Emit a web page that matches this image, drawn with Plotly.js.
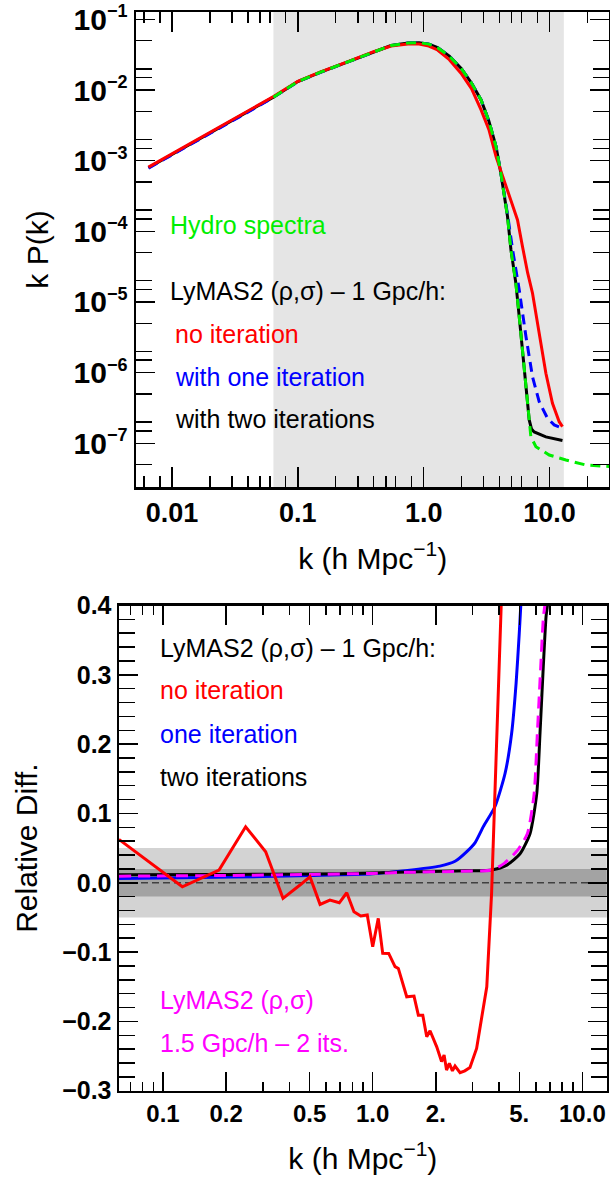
<!DOCTYPE html>
<html><head><meta charset="utf-8">
<script src="https://cdn.plot.ly/plotly-3.0.1.min.js"></script>
<style>html,body{margin:0;padding:0;background:#fff}#chart{width:610px;height:1184px}</style>
</head><body><div id="chart"></div>
<script>
// ---------- Top panel: k P(k) ----------
const kTwoIt = [0.0065,0.01,0.02,0.04,0.064,0.1,0.15,0.25,0.4,0.55,0.75,0.92,1.1,1.29,1.6,1.98,2.4,2.86,3.3,3.76,4.11,4.37,4.64,4.94,5.41,5.75,6.11,6.5,6.9,7.2,7.56,9.36,12.68];
const pTwoIt = [7.94e-4,1.23e-3,2.45e-3,4.90e-3,7.94e-3,1.318e-2,1.778e-2,2.512e-2,3.49e-2,4.27e-2,4.62e-2,4.68e-2,4.47e-2,3.98e-2,3.02e-2,2.04e-2,1.259e-2,7.24e-3,3.63e-3,1.585e-3,6.61e-4,3.39e-4,1.62e-4,5.50e-5,1.82e-5,6.17e-6,2.09e-6,5.62e-7,2.14e-7,1.585e-7,1.445e-7,1.23e-7,1.096e-7];

const kOneIt = [0.0065,0.01,0.02,0.04,0.064,0.1,0.15,0.25,0.4,0.55,0.75,0.92,1.1,1.29,1.6,1.98,2.4,2.86,3.3,3.76,4.11,4.37,4.64,5.09,5.75,6.5,7.33,8.28,9.64,10.9,12.68];
const pOneIt = [7.85e-4,1.22e-3,2.43e-3,4.86e-3,7.90e-3,1.31e-2,1.77e-2,2.50e-2,3.48e-2,4.26e-2,4.62e-2,4.68e-2,4.47e-2,3.98e-2,3.02e-2,2.04e-2,1.259e-2,7.24e-3,3.63e-3,1.585e-3,6.70e-4,3.50e-4,1.74e-4,5.50e-5,1.48e-5,3.24e-6,8.70e-7,3.89e-7,2.26e-7,1.82e-7,1.63e-7];

const kNoIt = [0.0065,0.01,0.02,0.04,0.064,0.1,0.15,0.25,0.4,0.55,0.75,0.92,1.1,1.29,1.6,1.98,2.4,2.86,3.3,3.76,4.37,5.0,5.57,6.11,6.7,7.33,8.28,9.36,10.56,11.94,12.68];
const pNoIt = [8.1e-4,1.25e-3,2.5e-3,5.0e-3,8.1e-3,1.33e-2,1.79e-2,2.53e-2,3.49e-2,4.20e-2,4.50e-2,4.50e-2,4.20e-2,3.69e-2,2.69e-2,1.73e-2,1.05e-2,5.25e-3,2.75e-3,1.14e-3,5.32e-4,2.57e-4,1.45e-4,6.0e-5,2.6e-5,1.33e-5,3.6e-6,9.8e-7,3.68e-7,2.02e-7,1.72e-7];

const kHydro = [0.064,0.1,0.15,0.25,0.4,0.55,0.75,0.92,1.1,1.29,1.6,1.98,2.4,2.86,3.3,3.76,4.11,4.37,4.64,4.94,5.41,5.75,6.11,6.5,6.9,7.11,7.8,9.95,13.5,19.4,29.8];
const pHydro = [7.94e-3,1.318e-2,1.778e-2,2.512e-2,3.49e-2,4.27e-2,4.62e-2,4.68e-2,4.47e-2,3.98e-2,3.02e-2,2.04e-2,1.259e-2,7.24e-3,3.63e-3,1.585e-3,6.61e-4,3.39e-4,1.62e-4,5.5e-5,1.82e-5,6.17e-6,2.09e-6,5.62e-7,2.14e-7,1.24e-7,8.95e-8,6.82e-8,5.81e-8,4.93e-8,4.68e-8];

const shadeK = [0.064, 13.0];

const topXTickVals = [0.01,0.1,1,10];
const topXTickText = ["0.01","0.1","1.0","10.0"];
const topXMinor = [0.006,0.008,0.02,0.03,0.04,0.05,0.06,0.08,0.2,0.3,0.4,0.5,0.6,0.8,2,3,4,5,6,8,20];
const topYTickVals = [1e-7,1e-6,1e-5,1e-4,1e-3,1e-2,1e-1];
const topYExponents = ["−7","−6","−5","−4","−3","−2","−1"];
const topYMinor = [5e-8,1.5e-7,2e-7,5e-7,1.5e-6,2e-6,5e-6,1.5e-5,2e-5,5e-5,1.5e-4,2e-4,5e-4,1.5e-3,2e-3,5e-3,1.5e-2,2e-2,5e-2];

// ---------- Bottom panel: relative difference ----------
const kRelNoIt = [0.0616,0.1236,0.185,0.2477,0.3087,0.3734,0.45,0.502,0.561,0.625,0.693,0.752,0.814,0.877,0.942,1.0,1.063,1.116,1.192,1.278,1.325,1.453,1.574,1.651,1.733,1.81,1.877,2.02,2.13,2.19,2.25,2.32,2.40,2.47,2.61,2.75,2.91,3.13,3.50,3.69,4.10,4.16];
const rNoIt = [0.0626,-0.0058,0.0183,0.0808,0.0447,-0.0225,-0.0033,0.0087,-0.0312,-0.025,-0.0289,-0.0144,-0.0418,-0.048,-0.0466,-0.0923,-0.0514,-0.1019,-0.102,-0.121,-0.1236,-0.1645,-0.1635,-0.191,-0.191,-0.2222,-0.2135,-0.2367,-0.258,-0.2486,-0.2703,-0.2606,-0.2713,-0.2645,-0.274,-0.2713,-0.2664,-0.239,-0.150,-0.015,0.40,0.47];

const kRelOneIt = [0.0616,0.15,0.3,0.5,1.0,1.43,2.09,2.47,2.81,3.08,3.37,3.83,4.28,4.60,4.83,5.0,5.08,5.2];
const rOneIt = [0.006,0.0075,0.009,0.0105,0.013,0.0175,0.024,0.031,0.045,0.058,0.081,0.11,0.158,0.216,0.288,0.36,0.398,0.45];

const kRelTwoIt = [0.0616,0.2,0.5,1.0,1.43,2.5,3.7,4.36,5.05,5.63,6.06,6.28,6.51,6.71,6.81,6.95];
const rTwoIt = [0.0115,0.012,0.0125,0.014,0.0155,0.017,0.0185,0.0255,0.042,0.071,0.129,0.216,0.312,0.384,0.40,0.45];

const kRel15 = [0.0616,0.2,0.5,1.0,1.43,2.5,3.7,4.24,4.91,5.47,5.89,6.10,6.33,6.52,6.62,6.75];
const r15 = [0.0095,0.0105,0.012,0.0135,0.015,0.0165,0.0185,0.028,0.047,0.071,0.129,0.216,0.312,0.384,0.40,0.45];

const bandOuter = [-0.05, 0.05];
const bandInner = [-0.02, 0.02];

const botXTickVals = [0.1,0.2,0.5,1,2,5,10];
const botXTickText = ["0.1","0.2","0.5","1.0","2.","5.","10.0"];
const botXMinor = [0.07,0.08,0.09,0.3,0.4,0.6,0.7,0.8,0.9,3,4,6,7,8,9];
const botYTickVals = [-0.3,-0.2,-0.1,0,0.1,0.2,0.3,0.4];
const botYTickText = ["−0.3","−0.2","−0.1","0.0","0.1","0.2","0.3","0.4"];

// ---------- colours ----------
const RED = "#ff0000", BLUE = "#0000ff", BLACK = "#000000", GREEN = "#00ee00", MAGENTA = "#ff00ff";
const FONT = "Liberation Sans, Arial, sans-serif";
const W = 610, H = 1184;
const px = v => v / W, py = v => 1 - v / H;

const traces = [
  {x:kTwoIt, y:pTwoIt, xaxis:'x', yaxis:'y', mode:'lines', line:{color:BLACK, width:3}},
  {x:kOneIt, y:pOneIt, xaxis:'x', yaxis:'y', mode:'lines', line:{color:BLUE, width:3, dash:'10px,6px'}},
  {x:kNoIt, y:pNoIt, xaxis:'x', yaxis:'y', mode:'lines', line:{color:RED, width:3}},
  {x:kHydro, y:pHydro, xaxis:'x', yaxis:'y', mode:'lines', line:{color:GREEN, width:3, dash:'10px,6px'}},

  {x:kRelOneIt, y:rOneIt, xaxis:'x2', yaxis:'y2', mode:'lines', line:{color:BLUE, width:3, shape:'spline', smoothing:0.6}},
  {x:kRelTwoIt, y:rTwoIt, xaxis:'x2', yaxis:'y2', mode:'lines', line:{color:BLACK, width:3, shape:'spline', smoothing:0.6}},
  {x:kRel15, y:r15, xaxis:'x2', yaxis:'y2', mode:'lines', line:{color:MAGENTA, width:3, dash:'12px,7px', shape:'spline', smoothing:0.6}},
  {x:kRelNoIt, y:rNoIt, xaxis:'x2', yaxis:'y2', mode:'lines', line:{color:RED, width:3}}
];

const axCommon = {
  showgrid:false, zeroline:false, showline:true, linecolor:'black', linewidth:2.5,
  mirror:'allticks', ticks:'inside', tickcolor:'black', tickwidth:1.5,
  tickmode:'array', ticklabeloverflow:'allow'
};

const layout = {
  width:W, height:H, margin:{l:0,r:0,t:0,b:0},
  paper_bgcolor:'white', plot_bgcolor:'white', showlegend:false,
  font:{family:FONT, color:'black'},
  xaxis: Object.assign({}, axCommon, {
    type:'log', range:[-2.286, 1.476], domain:[136/W, 0.999], anchor:'y',
    tickvals:topXTickVals, ticktext:topXTickText, ticklen:20,
    tickfont:{size:27, weight:'bold', family:FONT},
    minor:{tickmode:'array', tickvals:topXMinor, ticklen:11, tickwidth:1.5, tickcolor:'black', ticks:'inside'},
    title:{text:'k (h Mpc<sup>−1</sup>)', font:{size:30, family:FONT}, standoff:21}
  }),
  yaxis: Object.assign({}, axCommon, {
    type:'log', range:[-7.619, -0.895], domain:[1-487/H, 1-12/H], anchor:'x',
    tickvals:topYTickVals,
    ticktext:topYExponents.map(e => '10<sup><span style="font-size:18px">' + e + '</span></sup>'),
    ticklen:19,
    tickfont:{size:30, weight:'bold', family:FONT},
    minor:{tickmode:'array', tickvals:topYMinor, ticklen:16, tickwidth:1.5, tickcolor:'black', ticks:'inside'},
    title:{text:'k P(k)', font:{size:30, family:FONT}, standoff:16}
  }),
  xaxis2: Object.assign({}, axCommon, {
    type:'log', range:[-1.21, 1.116], domain:[119/W, 606.7/W], anchor:'y2',
    tickvals:botXTickVals, ticktext:botXTickText, ticklen:19,
    tickfont:{size:24, weight:'bold', family:FONT},
    minor:{tickmode:'array', tickvals:botXMinor, ticklen:9, tickwidth:1.5, tickcolor:'black', ticks:'inside'},
    title:{text:'k (h Mpc<sup>−1</sup>)', font:{size:30, family:FONT}, standoff:22}
  }),
  yaxis2: Object.assign({}, axCommon, {
    range:[-0.3, 0.4], domain:[1-1090.7/H, 1-605.5/H], anchor:'x2',
    tickvals:botYTickVals, ticktext:botYTickText, ticklen:19,
    tickfont:{size:25, weight:'bold', family:FONT},
    minor:{dtick:0.02, tick0:0, ticklen:16, tickwidth:1.5, tickcolor:'black', ticks:'inside'},
    title:{text:'Relative Diff.', font:{size:30, family:FONT}, standoff:16}
  }),
  shapes: [
    {type:'rect', xref:'x', yref:'y domain', x0:shadeK[0], x1:shadeK[1], y0:0, y1:1,
     fillcolor:'#e5e5e5', line:{width:0}, layer:'below'},
    {type:'rect', xref:'x2 domain', yref:'y2', x0:0, x1:1, y0:bandOuter[0], y1:bandOuter[1],
     fillcolor:'#d3d3d3', line:{width:0}, layer:'below'},
    {type:'rect', xref:'x2 domain', yref:'y2', x0:0, x1:1, y0:bandInner[0], y1:bandInner[1],
     fillcolor:'#a3a3a3', line:{width:0}, layer:'below'},
    {type:'line', xref:'x2 domain', yref:'y2', x0:0, x1:1, y0:0, y1:0,
     line:{color:'#404040', width:1.3, dash:'7px,4px'}, layer:'below'}
  ],
  annotations: [
    ['Hydro spectra', GREEN, 168, 225],
    ['LyMAS2 (ρ,σ) – 1 Gpc/h:', BLACK, 168, 291],
    ['no iteration', RED, 173, 334],
    ['with one iteration', BLUE, 173, 377],
    ['with two iterations', BLACK, 173, 419],
    ['LyMAS2 (ρ,σ) – 1 Gpc/h:', BLACK, 158, 648],
    ['no iteration', RED, 158, 690],
    ['one iteration', BLUE, 158, 734],
    ['two iterations', BLACK, 158, 777],
    ['LyMAS2 (ρ,σ)', MAGENTA, 158, 1000],
    ['1.5 Gpc/h – 2 its.', MAGENTA, 158, 1043]
  ].map(a => ({text:a[0], font:{color:a[1], size:25, family:FONT}, xref:'paper', yref:'paper',
               x:px(a[2]), y:py(a[3]), xanchor:'left', yanchor:'middle', showarrow:false}))
};

Plotly.newPlot('chart', traces, layout, {staticPlot:true, displayModeBar:false});
</script></body></html>
